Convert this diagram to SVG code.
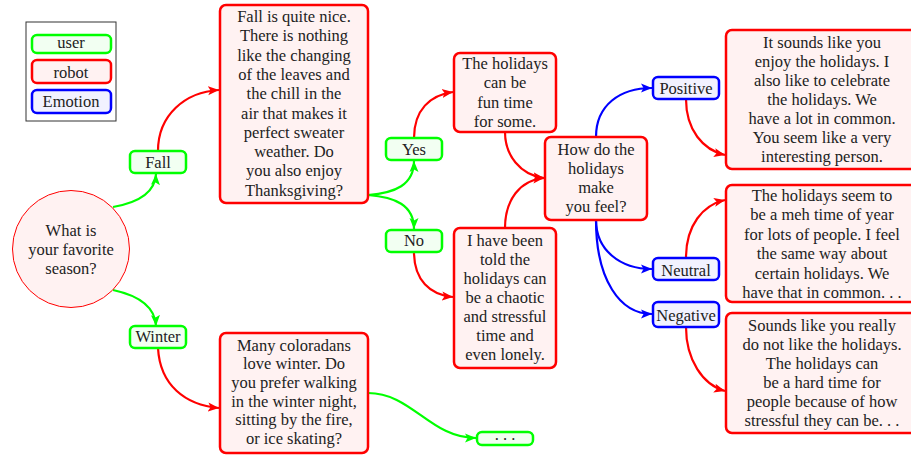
<svg xmlns="http://www.w3.org/2000/svg" width="911" height="455" viewBox="0 0 911 455" font-family="'Liberation Serif', 'DejaVu Serif', serif">
  <style>
    text { font-family: 'Liberation Serif', 'DejaVu Serif', serif; font-size: 16.5px; fill: #222; text-anchor: middle; }
    .user { fill: #f2fff2; stroke: #00ff00; stroke-width: 2.5; }
    .robot { fill: #fff2f2; stroke: #ff0000; stroke-width: 2.5; }
    .emo { fill: #f2f2ff; stroke: #0000ff; stroke-width: 2.5; }
    .e { fill: none; stroke-width: 2.2; }
    .eg { stroke: #00ff00; marker-end: url(#ag); }
    .er { stroke: #ff0000; marker-end: url(#ar); }
    .eb { stroke: #0000ff; marker-end: url(#ab); }
  </style>
  <defs>
    <marker id="ag" markerUnits="userSpaceOnUse" markerWidth="12" markerHeight="10" viewBox="0 0 12 10" refX="11" refY="5" orient="auto">
      <path d="M0,0.5 L11,5 L0,9.5 L2.5,5 Z" fill="#00ff00"/>
    </marker>
    <marker id="ar" markerUnits="userSpaceOnUse" markerWidth="12" markerHeight="10" viewBox="0 0 12 10" refX="11" refY="5" orient="auto">
      <path d="M0,0.5 L11,5 L0,9.5 L2.5,5 Z" fill="#ff0000"/>
    </marker>
    <marker id="ab" markerUnits="userSpaceOnUse" markerWidth="12" markerHeight="10" viewBox="0 0 12 10" refX="11" refY="5" orient="auto">
      <path d="M0,0.5 L11,5 L0,9.5 L2.5,5 Z" fill="#0000ff"/>
    </marker>
  </defs>

  <!-- legend -->
  <g id="legend">
    <rect x="26" y="22" width="90" height="99" fill="#fff" stroke="#333" stroke-width="1"/>
    <rect class="user" x="32" y="35" width="79" height="18" rx="5"/>
    <text x="71" y="48">user</text>
    <rect class="robot" x="32" y="60" width="79" height="23" rx="5"/>
    <text x="71" y="78">robot</text>
    <rect class="emo" x="32" y="90" width="79" height="23" rx="5"/>
    <text x="71" y="107">Emotion</text>
  </g>

  <!-- connectors -->
  <g id="connectors">
    <path class="e eg" d="M113,207 C136,203 155,194 156,174"/>
    <path class="e eg" d="M113,290 C136,295 155,305 156,326"/>
    <path class="e er" d="M158,151 C158,115 185,92 219,90"/>
    <path class="e er" d="M158,348 C160,385 185,405 219,408"/>
    <path class="e eg" d="M368,195 C395,193 414,185 414,161"/>
    <path class="e eg" d="M368,195 C395,197 414,205 414,229"/>
    <path class="e er" d="M414,138 C414,110 430,95 453,92"/>
    <path class="e er" d="M414,252 C414,280 430,295 453,297"/>
    <path class="e er" d="M505,132 C505,155 520,175 544,178"/>
    <path class="e er" d="M505,228 C505,200 520,180 544,178"/>
    <path class="e eb" d="M596,137 C596,105 620,88 652,88"/>
    <path class="e eb" d="M596,220 C596,250 620,269 652,269"/>
    <path class="e eb" d="M596,220 C596,280 620,314 652,314"/>
    <path class="e er" d="M686,99 C686,130 703,150 725,155"/>
    <path class="e er" d="M686,258 C686,225 703,205 725,200"/>
    <path class="e er" d="M686,327 C686,360 703,385 725,391"/>
    <path class="e eg" d="M368,393 C412,393 430,438 476,438"/>
  </g>

  <!-- root question -->
  <g id="q-season">
    <circle cx="71" cy="249" r="58.5" fill="#fff2f2" stroke="#ff0000" stroke-width="1"/>
    <text x="71" y="236">What is</text>
    <text x="71" y="255">your favorite</text>
    <text x="71" y="274">season?</text>
  </g>

  <g id="u-fall">
    <rect class="user" x="130" y="151" width="56" height="22" rx="5"/>
    <text x="158" y="168">Fall</text>
  </g>

  <g id="u-winter">
    <rect class="user" x="130" y="326" width="56" height="22" rx="5"/>
    <text x="158" y="342">Winter</text>
  </g>

  <g id="r-fall">
    <rect class="robot" x="220" y="5" width="148" height="198" rx="6"/>
    <text x="294" y="22">Fall is quite nice.</text>
    <text x="294" y="41.3">There is nothing</text>
    <text x="294" y="60.6">like the changing</text>
    <text x="294" y="79.9">of the leaves and</text>
    <text x="294" y="99.2">the chill in the</text>
    <text x="294" y="118.5">air that makes it</text>
    <text x="294" y="137.8">perfect sweater</text>
    <text x="294" y="157.1">weather.  Do</text>
    <text x="294" y="176.4">you also enjoy</text>
    <text x="294" y="195.7">Thanksgiving?</text>
  </g>

  <g id="r-winter">
    <rect class="robot" x="220" y="333" width="148" height="120" rx="6"/>
    <text x="294" y="350.5">Many coloradans</text>
    <text x="294" y="369.2">love winter.  Do</text>
    <text x="294" y="387.9">you prefer walking</text>
    <text x="294" y="406.6">in the winter night,</text>
    <text x="294" y="425.3">sitting by the fire,</text>
    <text x="294" y="444">or ice skating?</text>
  </g>

  <g id="u-more">
    <rect class="user" x="477" y="432" width="56" height="13" rx="5"/>
    <text x="505" y="440">. . .</text>
  </g>

  <g id="u-yes">
    <rect class="user" x="386" y="138" width="56" height="22" rx="5"/>
    <text x="414" y="155">Yes</text>
  </g>

  <g id="u-no">
    <rect class="user" x="386" y="230" width="56" height="22" rx="5"/>
    <text x="414" y="246">No</text>
  </g>

  <g id="r-fun">
    <rect class="robot" x="454" y="53" width="102" height="79" rx="6"/>
    <text x="505" y="69">The holidays</text>
    <text x="505" y="88.3">can be</text>
    <text x="505" y="107.6">fun time</text>
    <text x="505" y="126.9">for some.</text>
  </g>

  <g id="r-stress">
    <rect class="robot" x="454" y="228" width="102" height="140" rx="6"/>
    <text x="505" y="245.5">I have been</text>
    <text x="505" y="264.6">told the</text>
    <text x="505" y="283.7">holidays can</text>
    <text x="505" y="302.8">be a chaotic</text>
    <text x="505" y="321.9">and stressful</text>
    <text x="505" y="341">time and</text>
    <text x="505" y="360.1">even lonely.</text>
  </g>

  <g id="r-feel">
    <rect class="robot" x="545" y="137" width="102" height="83" rx="6"/>
    <text x="596" y="154.5">How do the</text>
    <text x="596" y="173.5">holidays</text>
    <text x="596" y="192.5">make</text>
    <text x="596" y="211.5">you feel?</text>
  </g>

  <g id="e-positive">
    <rect class="emo" x="653" y="77" width="66" height="22" rx="5"/>
    <text x="686" y="93.5">Positive</text>
  </g>

  <g id="e-neutral">
    <rect class="emo" x="653" y="258" width="66" height="22" rx="5"/>
    <text x="686" y="275.5">Neutral</text>
  </g>

  <g id="e-negative">
    <rect class="emo" x="653" y="302" width="66" height="25" rx="5"/>
    <text x="686" y="320.5">Negative</text>
  </g>

  <g id="r-positive">
    <rect class="robot" x="726" y="30" width="192" height="139" rx="6"/>
    <text x="822" y="47.5">It sounds like you</text>
    <text x="822" y="66.5">enjoy the holidays.  I</text>
    <text x="822" y="85.5">also like to celebrate</text>
    <text x="822" y="104.5">the holidays.  We</text>
    <text x="822" y="123.5">have a lot in common.</text>
    <text x="822" y="142.5">You seem like a very</text>
    <text x="822" y="161.5">interesting person.</text>
  </g>

  <g id="r-neutral">
    <rect class="robot" x="726" y="185" width="192" height="117" rx="6"/>
    <text x="822" y="201">The holidays seem to</text>
    <text x="822" y="220.4">be a meh time of year</text>
    <text x="822" y="239.8">for lots of people.  I feel</text>
    <text x="822" y="259.2">the same way about</text>
    <text x="822" y="278.6">certain holidays.  We</text>
    <text x="822" y="298">have that in common. . .</text>
  </g>

  <g id="r-negative">
    <rect class="robot" x="726" y="313" width="192" height="120" rx="6"/>
    <text x="822" y="330.5">Sounds like you really</text>
    <text x="822" y="349.5">do not like the holidays.</text>
    <text x="822" y="368.5">The holidays can</text>
    <text x="822" y="387.5">be a hard time for</text>
    <text x="822" y="406.5">people because of how</text>
    <text x="822" y="425.5">stressful they can be. . .</text>
  </g>
</svg>
